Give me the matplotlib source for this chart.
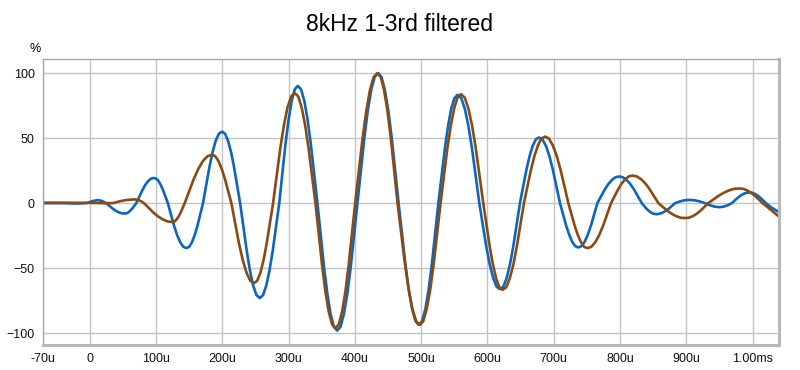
import numpy as np
import matplotlib.pyplot as plt

# values: time in microseconds, level in %
blue_t = [-70, -40, -20, -5, 0, 6, 12, 18, 25,
          34.3, 38.9, 43.5, 48.2, 52.8, 55.7, 58.7, 61.6, 64.5, 70.4,
          79.3, 83.7, 88.1, 92.6, 97, 100.5, 104, 107.5, 111, 118,
          127.3, 132, 136.7, 141.3, 146, 150.2, 154.3, 158.5, 162.7, 171,
          180.6, 185.4, 190.1, 194.9, 199.7, 204.3, 208.8, 213.4, 217.9, 227,
          236.9, 241.8, 246.7, 251.7, 256.6, 261.5, 266.4, 271.3, 276.2, 286,
          295.3, 300, 304.7, 309.3, 314, 318.9, 323.9, 328.8, 333.7, 343.6,
          353.5, 358.5, 363.4, 368.4, 373.3, 378.4, 383.5, 388.7, 393.8, 404,
          414.3, 419.5, 424.7, 429.8, 435, 440.2, 445.3, 450.5, 455.7, 466,
          476.2, 481.3, 486.4, 491.5, 496.6, 501.5, 506.4, 511.3, 516.2, 526,
          535.7, 540.5, 545.3, 550.2, 555, 560.5, 565.9, 571.4, 576.8, 587.7,
          598.1, 603.4, 608.6, 613.8, 619, 624, 629, 634, 639, 649,
          658.6, 663.4, 668.1, 672.9, 677.7, 683, 688.3, 693.6, 698.8, 709.4,
          718.6, 723.2, 727.8, 732.4, 737, 741.8, 746.6, 751.4, 756.2, 765.8,
          776.7, 782.2, 787.6, 793.1, 798.5, 804.2, 809.9, 815.6, 821.3, 832.7,
          839.9, 843.5, 847.1, 850.7, 854.3, 859.1, 863.9, 868.7, 873.4, 883,
          890.2, 897.4, 904.6, 912.4, 920.2, 928,
          935.3, 942.7, 950, 956.2, 962.4, 968.6,
          977.4, 981.8, 986.2, 990.6, 995, 999.2, 1003.3, 1007.5, 1011.7, 1020,
          1028, 1040]
blue_v = [0, 0, -0.3, 0, 0.8, 1.8, 2.3, 1.8, 0,
          -4, -5.7, -7, -7.8, -8, -7.8, -7, -5.7, -4, 0,
          9.7, 13.8, 16.9, 18.8, 19.4, 18.8, 16.9, 13.8, 9.7, 0,
          -17.3, -24.6, -30.1, -33.6, -34.6, -33.6, -30.1, -24.6, -17.3, 0,
          27.5, 39.1, 47.9, 53.4, 55, 53.4, 47.9, 39.1, 27.5, 0,
          -36.5, -51.8, -63.5, -70.8, -73, -70.8, -63.5, -51.8, -36.5, 0,
          45.1, 64, 78.5, 87.5, 90.2, 87.5, 78.5, 64, 45.1, 0,
          -49, -69.6, -85.3, -95.1, -98, -95.1, -85.3, -69.6, -49, 0,
          50, 71, 87, 97, 100, 97, 87, 71, 50, 0,
          -46.8, -66.5, -81.4, -90.8, -93.6, -90.8, -81.4, -66.5, -46.8, 0,
          41.7, 59.1, 72.5, 80.8, 83.3, 80.8, 72.5, 59.1, 41.7, 0,
          -33.1, -47, -57.6, -64.2, -66.2, -64.2, -57.6, -47, -33.1, 0,
          25.3, 35.9, 43.9, 49, 50.5, 49, 43.9, 35.9, 25.3, 0,
          -17.1, -24.2, -29.7, -33.1, -34.1, -33.1, -29.7, -24.2, -17.1, 0,
          10.3, 14.6, 17.8, 19.9, 20.5, 19.9, 17.8, 14.6, 10.3, 0,
          -4.3, -6, -7.4, -8.2, -8.5, -8.2, -7.4, -6, -4.3, 0,
          1.3, 2.2, 2.5, 2.2, 1.3, 0,
          -1.6, -2.7, -3.1, -2.7, -1.6, 0,
          4.1, 5.8, 7.1, 8, 8.2, 8, 7.1, 5.8, 4.1, 0,
          -3.3, -7]

brown_t = [-70, -30, 0, 20, 35,
           46, 57, 68, 73, 77.5, 82,
           96.3, 103.5, 110.7, 117.8, 125, 128.1, 131.1, 134.2, 137.3, 143.4,
           157.1, 164, 170.9, 177.7, 184.6, 189.5, 194.3, 199.2, 204.1, 213.8,
           225.2, 230.9, 236.6, 242.3, 248, 252.8, 257.6, 262.4, 267.1, 276.7,
           287.6, 293.1, 298.5, 304, 309.4, 314.6, 319.8, 325, 330.2, 340.6,
           350.7, 355.7, 360.7, 365.8, 370.8, 375.8, 380.7, 385.7, 390.6, 400.5,
           411.7, 417.3, 422.8, 428.4, 434, 439.1, 444.1, 449.2, 454.3, 464.4,
           475.6, 481.2, 486.8, 492.4, 498, 503.2, 508.4, 513.7, 518.9, 529.3,
           539.5, 544.7, 549.8, 554.9, 560, 565.6, 571.2, 576.9, 582.5, 593.7,
           603.4, 608.3, 613.2, 618, 622.9, 628.3, 633.6, 639, 644.3, 655,
           665.6, 670.9, 676.2, 681.5, 686.8, 692.7, 698.5, 704.4, 710.3, 722,
           731.5, 736.3, 741.1, 745.8, 750.6, 756.6, 762.5, 768.5, 774.5, 786.4,
           797.1, 802.5, 807.9, 813.2, 818.6, 825.1, 831.7, 838.2, 844.7, 857.8,
           871.2, 877.9, 884.6, 891.3, 898, 903.8, 909.7, 915.5, 921.3, 933,
           948.7, 956.5, 964.3, 972.2, 980, 985.8, 991.7, 997.5, 1003.3, 1015,
           1027, 1040]
brown_v = [0.3, 0.3, 0.2, 0, 0,
           1.5, 2.5, 2.9, 2.5, 1.5, 0,
           -7.3, -10.3, -12.6, -14.1, -14.5, -14.1, -12.6, -10.3, -7.3, 0,
           18.6, 26.4, 32.4, 36.1, 37.2, 36.1, 32.4, 26.4, 18.6, 0,
           -30.8, -43.7, -53.5, -59.7, -61.5, -59.7, -53.5, -43.7, -30.8, 0,
           42.3, 60.1, 73.6, 82.1, 84.6, 82.1, 73.6, 60.1, 42.3, 0,
           -48.1, -68.3, -83.7, -93.3, -96.2, -93.3, -83.7, -68.3, -48.1, 0,
           50, 71, 87, 97, 100, 97, 87, 71, 50, 0,
           -46.8, -66.5, -81.4, -90.8, -93.6, -90.8, -81.4, -66.5, -46.8, 0,
           41.9, 59.5, 72.9, 81.3, 83.8, 81.3, 72.9, 59.5, 41.9, 0,
           -33.4, -47.4, -58, -64.7, -66.7, -64.7, -58, -47.4, -33.4, 0,
           25.6, 36.4, 44.5, 49.7, 51.2, 49.7, 44.5, 36.4, 25.6, 0,
           -17.3, -24.6, -30.1, -33.6, -34.6, -33.6, -30.1, -24.6, -17.3, 0,
           10.6, 15.1, 18.4, 20.6, 21.2, 20.6, 18.4, 15.1, 10.6, 0,
           -5.8, -8.2, -10, -11.2, -11.5, -11.2, -10, -8.2, -5.8, 0,
           5.7, 8, 9.8, 11, 11.3, 11, 9.8, 8, 5.7, 0,
           -5, -10.5]

x_ticks = [-70, 0, 100, 200, 300, 400, 500, 600, 700, 800, 900, 1000]
x_labels = ['-70u', '0', '100u', '200u', '300u', '400u', '500u',
            '600u', '700u', '800u', '900u', '1.00ms']
y_ticks = [-100, -50, 0, 50, 100]

plt.rcParams['font.family'] = ['Liberation Sans', 'DejaVu Sans']

fig = plt.figure(figsize=(8, 3.7), dpi=100)
ax = fig.add_axes([0.054, 0.068, 0.92, 0.773])

ax.plot(blue_t, blue_v, color='#0b66c3', lw=1.9, solid_joinstyle='round')
ax.plot(brown_t, brown_v, color='#8b4a12', lw=1.9, solid_joinstyle='round')

ax.set_xlim(-70, 1040)
ax.set_ylim(-109, 111)
ax.set_xticks(x_ticks)
ax.set_xticklabels(x_labels)
ax.set_yticks(y_ticks)
ax.tick_params(length=0, labelsize=9, pad=6, colors='#111111')
ax.grid(True, color='#c4c4c4', lw=1)
ax.set_axisbelow(True)

for side in ['left', 'top']:
    ax.spines[side].set_color('#a8a8a8')
    ax.spines[side].set_linewidth(1)
for side in ['right', 'bottom']:
    ax.spines[side].set_color('#b8b8b8')
    ax.spines[side].set_linewidth(2.2)

fig.text(0.5, 0.935, '8kHz 1-3rd filtered', ha='center', va='center', fontsize=16.5)
fig.text(0.037, 0.868, '%', ha='left', va='center', fontsize=9)

fig.savefig('out.png', dpi=100)
